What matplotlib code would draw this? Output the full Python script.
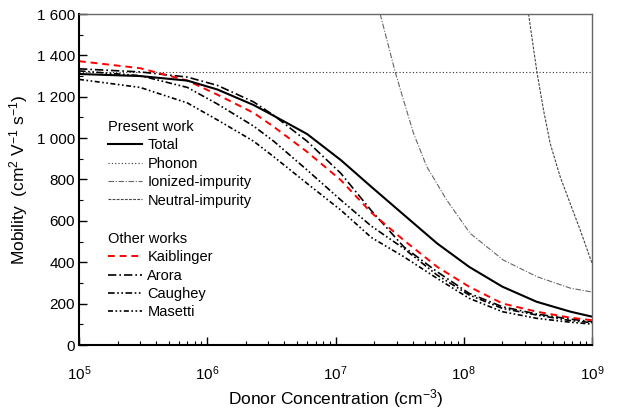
import numpy as np
import matplotlib
matplotlib.use('Agg')
import matplotlib.pyplot as plt
from matplotlib.lines import Line2D

plt.rcParams.update({
    'font.family': ['Liberation Sans', 'DejaVu Sans'],
    'font.size': 10.5,
    'mathtext.fontset': 'custom',
    'mathtext.rm': 'Liberation Sans',
    'mathtext.it': 'Liberation Sans',
})

# ── data (cm^-3, cm^2 V^-1 s^-1) ─────────────────────────────
conc = [1e5, 3e5, 7e5, 1.2e6, 2.3e6, 3.3e6, 6e6, 1.1e7, 1.9e7,
        3.4e7, 6.2e7, 1.1e8, 2e8, 3.7e8, 6.8e8, 1e9]

total      = [1310, 1300, 1278, 1235, 1160, 1108, 1020, 894, 765,
              630, 491, 378, 282, 209, 161, 137]
kaiblinger = [1372, 1338, 1278, 1210, 1122, 1055, 934, 797, 640,
              507, 378, 282, 201, 161, 132, 120]
arora      = [1335, 1320, 1295, 1255, 1175, 1110, 985, 830, 650,
              475, 354, 250, 185, 150, 125, 113]
caughey    = [1325, 1302, 1245, 1165, 1058, 985, 846, 701, 575,
              467, 338, 242, 177, 145, 118, 108]
masetti    = [1284, 1245, 1170, 1088, 985, 910, 781, 652, 520,
              427, 322, 226, 161, 129, 110, 101]

phonon_conc = [1e5, 1e9]
phonon      = [1320, 1320]

ionized_conc = [2.23e7, 2.92e7, 3.39e7, 4.06e7, 5.15e7, 7.38e7,
                1.12e8, 2.03e8, 3.73e8, 6.76e8, 1e9]
ionized      = [1600, 1320, 1184, 1023, 862, 700, 540, 411, 330, 275, 256]

neutral_conc = [3.2e8, 3.72e8, 4.19e8, 4.72e8, 5.65e8, 6.76e8, 8.09e8, 1e9]
neutral      = [1600, 1320, 1135, 974, 813, 684, 556, 395]

yticks = [0, 200, 400, 600, 800, 1000, 1200, 1400, 1600]
ytick_labels = ['0', '200', '400', '600', '800', '1 000', '1 200', '1 400', '1 600']

# ── styles ───────────────────────────────────────────────────
st_total   = dict(color='black', lw=1.5, ls='-')
st_phonon  = dict(color='#333333', lw=0.8, ls=(0, (1, 2)))
st_ionized = dict(color='#666666', lw=0.8, ls=(0, (5, 1.5, 1, 1.5)))
st_neutral = dict(color='#444444', lw=0.8, ls=(0, (2.5, 1.2)))
st_kaib    = dict(color='red', lw=1.4, ls=(0, (3.5, 2.5)))
st_arora   = dict(color='black', lw=1.2, ls=(0, (5, 1.8, 1, 1.8)))
st_caughey = dict(color='black', lw=1.2, ls=(0, (4, 1.5, 1, 1.5, 1, 1.5)))
st_masetti = dict(color='black', lw=1.2, ls=(0, (3, 1.5, 1, 1.5, 1, 1.5)))

fig = plt.figure(figsize=(6.23, 4.11), dpi=100)
ax = fig.add_axes([79 / 623, 1 - 345 / 411, (592 - 79) / 623, (345 - 14) / 411])

ax.plot(phonon_conc, phonon, **st_phonon)
ax.plot(ionized_conc, ionized, **st_ionized)
ax.plot(neutral_conc, neutral, **st_neutral)
ax.plot(conc, masetti, **st_masetti)
ax.plot(conc, caughey, **st_caughey)
ax.plot(conc, arora, **st_arora)
ax.plot(conc, kaiblinger, **st_kaib)
ax.plot(conc, total, **st_total)

ax.set_xscale('log')
ax.set_xlim(1e5, 1e9)
ax.set_ylim(0, 1600)
ax.set_yticks(yticks)
ax.set_yticklabels(ytick_labels)
ax.set_yticks(np.arange(100, 1600, 200), minor=True)
ax.set_xticks([1e5, 1e6, 1e7, 1e8, 1e9])
ax.set_xticklabels([r'$10^{5}$', r'$10^{6}$', r'$10^{7}$', r'$10^{8}$', r'$10^{9}$'])
ax.tick_params(which='both', direction='in', top=False, right=False)
ax.tick_params(which='major', length=6, width=1)
ax.tick_params(which='minor', length=3, width=0.8)
ax.tick_params(axis='y', which='major', pad=3, labelsize=11)
ax.tick_params(axis='x', which='major', pad=14, labelsize=11)

for s in ['left', 'bottom']:
    ax.spines[s].set_linewidth(1.5)
for s in ['top', 'right']:
    ax.spines[s].set_color('#666666')
    ax.spines[s].set_linewidth(1.0)

ax.set_xlabel('Donor Concentration (cm$^{-3}$)', fontsize=12.5, labelpad=3)
ax.set_ylabel('Mobility  (cm$^{2}$ V$^{-1}$ s$^{-1}$)', fontsize=12.5)
ax.yaxis.set_label_coords(-0.095, 0.5)

# ── legends ──────────────────────────────────────────────────
def h(st):
    return Line2D([], [], **st)

leg_kw = dict(frameon=False, fontsize=10.5, title_fontsize=10.5,
              handlelength=2.3, handletextpad=0.4, labelspacing=0.3,
              borderaxespad=0, borderpad=0, alignment='left')

leg1 = ax.legend([h(st_total), h(st_phonon), h(st_ionized), h(st_neutral)],
                 ['Total', 'Phonon', 'Ionized-impurity', 'Neutral-impurity'],
                 title='Present work', loc='upper left',
                 bbox_to_anchor=(29 / 513, 1 - 106 / 331), **leg_kw)
ax.add_artist(leg1)
ax.legend([h(st_kaib), h(st_arora), h(st_caughey), h(st_masetti)],
          ['Kaiblinger', 'Arora', 'Caughey', 'Masetti'],
          title='Other works', loc='upper left',
          bbox_to_anchor=(29 / 513, 1 - 218 / 331), **leg_kw)

fig.savefig('out.png', dpi=100)
